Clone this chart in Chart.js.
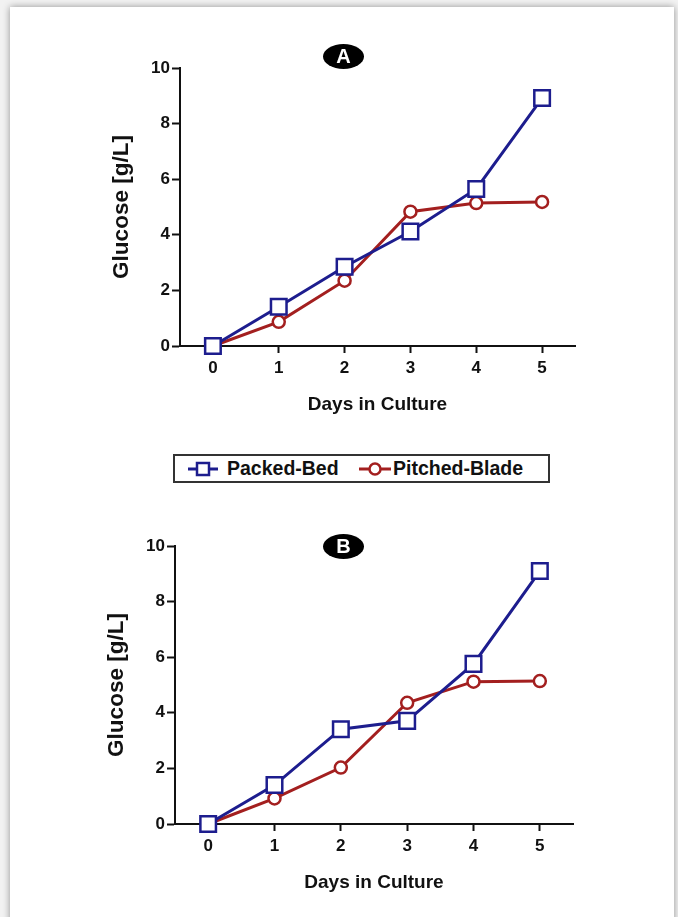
<!DOCTYPE html>
<html>
<head>
<meta charset="utf-8">
<script src="https://cdn.jsdelivr.net/npm/chart.js@4.4.1/dist/chart.umd.min.js"></script>
<style>
	html, body { margin: 0; padding: 0; background: #f2f2f2; }
	body { width: 678px; height: 917px; position: relative; overflow: hidden; font-family: 'Liberation Sans', Arial, sans-serif; }
	.card { position: absolute; left: 10px; top: 7px; width: 664px; height: 940px; background: #fff; box-shadow: 0 0 7px rgba(0,0,0,0.4); }
	canvas { position: absolute; left: 0; }
	.badge { position: absolute; width: 41px; height: 25px; border-radius: 50%; background: #000; color: #fff; font-weight: bold; font-size: 20px; line-height: 25px; text-align: center; }
	.legend { position: absolute; left: 173px; top: 454px; width: 377px; height: 29px; box-sizing: border-box; border: 2px solid #333; background: #fff; font-weight: bold; font-size: 19.5px; color: #111; }
	.legend span { position: absolute; top: 1px; }
	.legend svg { position: absolute; top: 5px; }
</style>
</head>
<body>
<div class="card"></div>
<canvas id="chartA" width="678" height="440" style="top:0"></canvas>
<canvas id="chartB" width="678" height="439" style="top:478px"></canvas>
<div class="badge" style="left:323px;top:44px">A</div>
<div class="badge" style="left:323px;top:534px">B</div>
<div class="legend">
	<svg width="30" height="16" style="left:13px"><line x1="0" y1="8" x2="30" y2="8" stroke="#1d1d8e" stroke-width="3"/><rect x="9" y="2" width="12" height="12" fill="#fff" stroke="#1d1d8e" stroke-width="2.5"/></svg>
	<span style="left:52px">Packed-Bed</span>
	<svg width="32" height="16" style="left:184px"><line x1="0" y1="8" x2="32" y2="8" stroke="#a31f1f" stroke-width="3"/><circle cx="16" cy="8" r="5.5" fill="#fff" stroke="#a31f1f" stroke-width="2.5"/></svg>
	<span style="left:218px">Pitched-Blade</span>
</div>
<script>
'use strict'

const days = ['0', '1', '2', '3', '4', '5'];
const yTicks = [0, 2, 4, 6, 8, 10];
const packedBedA = [0, 1.41, 2.85, 4.12, 5.65, 8.92];
const pitchedBladeA = [0, 0.87, 2.35, 4.83, 5.14, 5.18];
const packedBedB = [0, 1.40, 3.41, 3.71, 5.76, 9.10];
const pitchedBladeB = [0, 0.92, 2.03, 4.36, 5.12, 5.14];

const blue = '#1d1d8e';
const red = '#a31f1f';
const ink = '#111';
const fontFamily = "'Liberation Sans', Arial, sans-serif";

Chart.defaults.font.family = fontFamily;
Chart.defaults.color = ink;

function makeChart(id, packed, pitched, pad) {
	return new Chart(document.getElementById(id), {
		type: 'line',
		data: {
			labels: days,
			datasets: [
				{
					label: 'Packed-Bed',
					data: packed,
					borderColor: blue,
					borderWidth: 3,
					pointStyle: 'rect',
					pointRadius: 11,
					pointBorderWidth: 2.5,
					pointBackgroundColor: '#fff',
					pointBorderColor: blue,
					tension: 0,
					clip: false,
				},
				{
					label: 'Pitched-Blade',
					data: pitched,
					borderColor: red,
					borderWidth: 3,
					pointStyle: 'circle',
					pointRadius: 6,
					pointBorderWidth: 2.5,
					pointBackgroundColor: '#fff',
					pointBorderColor: red,
					tension: 0,
					clip: false,
				},
			],
		},
		options: {
			responsive: false,
			animation: false,
			devicePixelRatio: 1,
			layout: {
				padding: pad,
			},
			plugins: {
				legend: { display: false },
				tooltip: { enabled: false },
			},
			scales: {
				x: {
					type: 'category',
					offset: true,
					afterFit: (s) => { s.height = 72 },
					grid: {
						drawOnChartArea: false,
						tickLength: 7,
						tickWidth: 2,
						color: ink,
						offset: false,
					},
					border: { display: true, color: ink, width: 2 },
					ticks: {
						padding: 5,
						font: { size: 17, weight: 'bold' },
						color: ink,
					},
					title: {
						display: true,
						text: 'Days in Culture',
						font: { size: 19, weight: 'bold' },
						color: ink,
						padding: { top: 0, bottom: 2 },
					},
				},
				y: {
					min: 0,
					max: 10,
					afterFit: (s) => { s.width = 80 },
					afterBuildTicks: (s) => { s.ticks = yTicks.map((v) => ({ value: v })) },
					grid: {
						drawOnChartArea: false,
						tickLength: 8,
						tickWidth: 2,
						color: ink,
					},
					border: { display: true, color: ink, width: 2 },
					ticks: {
						padding: 2,
						font: { size: 17, weight: 'bold' },
						color: ink,
					},
					title: {
						display: true,
						text: 'Glucose [g/L]',
						font: { size: 22.5, weight: 'bold' },
						color: ink,
						padding: { top: 8, bottom: 0 },
					},
				},
			},
		},
	});
}

makeChart('chartA', packedBedA, pitchedBladeA, { left: 100, right: 103, top: 68, bottom: 22 });
makeChart('chartB', packedBedB, pitchedBladeB, { left: 95, right: 105, top: 68, bottom: 21 });
</script>
</body>
</html>
